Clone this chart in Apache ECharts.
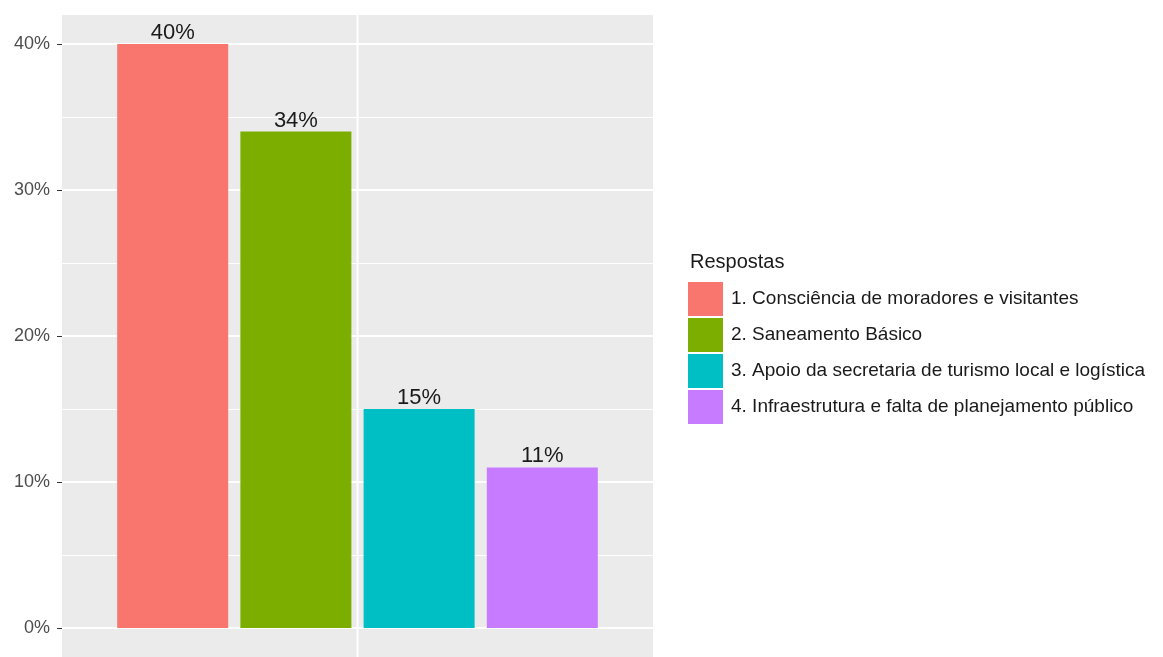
<!DOCTYPE html>
<html>
<head>
<meta charset="utf-8">
<script src="https://cdn.jsdelivr.net/npm/echarts@6/dist/echarts.min.js"></script>
<style>
  html, body { margin: 0; padding: 0; background: #ffffff; }
  #chart { width: 1163px; height: 657px; }
</style>
</head>
<body>
<div id="chart"></div>
<script>
// Answer categories and their shares (percent)
const respostas = [
  '1. Consciência de moradores e visitantes',
  '2. Saneamento Básico',
  '3. Apoio da secretaria de turismo local e logística',
  '4. Infraestrutura e falta de planejamento público'
];
const percentuais = [40, 34, 15, 11];
const cores = ['#F8766D', '#7CAE00', '#00BFC4', '#C77CFF'];
const yTicks = [0, 10, 20, 30, 40];
const legendTitle = 'Respostas';

const FONT = '"Liberation Sans", Arial, sans-serif';

// Panel box (grey background) that extends slightly beyond the 0–40 range
const panel = { left: 62, right: 653, top: 15, bottom: 657 };

const chart = echarts.init(document.getElementById('chart'), null, { renderer: 'canvas' });

const series = respostas.map((nome, i) => ({
  name: nome,
  type: 'bar',
  data: [percentuais[i]],
  barWidth: 111,
  barGap: '11%',
  itemStyle: { color: cores[i] },
  label: {
    show: true,
    position: 'top',
    distance: 0,
    formatter: (p) => p.value + '%',
    color: '#1a1a1a',
    fontFamily: FONT,
    fontSize: 22
  },
  z: 3
}));

chart.setOption({
  animation: false,
  backgroundColor: '#ffffff',
  title: {
    text: legendTitle,
    left: 690,
    top: 252,
    padding: 0,
    textStyle: { fontFamily: FONT, fontSize: 20, fontWeight: 'normal', color: '#1a1a1a' }
  },
  legend: {
    orient: 'vertical',
    left: 688,
    top: 282,
    padding: 0,
    itemWidth: 35,
    itemHeight: 34,
    itemGap: 2,
    icon: 'rect',
    data: respostas,
    textStyle: { fontFamily: FONT, fontSize: 19, color: '#1a1a1a', padding: [0, 0, 0, 3] },
    selectedMode: false
  },
  graphic: [
    {
      type: 'rect',
      z: -10,
      silent: true,
      shape: { x: panel.left, y: panel.top, width: panel.right - panel.left, height: panel.bottom - panel.top },
      style: { fill: '#EBEBEB' }
    },
    {
      // vertical major gridline at the single discrete x position
      type: 'line',
      z: -5,
      silent: true,
      shape: { x1: (panel.left + panel.right) / 2, y1: panel.top, x2: (panel.left + panel.right) / 2, y2: panel.bottom },
      style: { stroke: '#ffffff', lineWidth: 2 }
    }
  ],
  grid: { left: 62, right: 510, top: 44, bottom: 29, containLabel: false },
  xAxis: {
    type: 'category',
    data: [''],
    axisLine: { show: false },
    axisTick: { show: false },
    axisLabel: { show: false },
    splitLine: { show: false }
  },
  yAxis: {
    type: 'value',
    min: yTicks[0],
    max: yTicks[yTicks.length - 1],
    interval: 10,
    axisLine: { show: false },
    axisTick: { show: true, length: 5, lineStyle: { color: '#333333', width: 1 } },
    axisLabel: {
      margin: 12,
      formatter: (v) => v + '%',
      color: '#4D4D4D',
      fontFamily: FONT,
      fontSize: 18
    },
    splitLine: { show: true, lineStyle: { color: '#ffffff', width: 2 } },
    minorTick: { show: false, splitNumber: 2 },
    minorSplitLine: { show: true, lineStyle: { color: '#ffffff', width: 1 } }
  },
  series: series
});
</script>
</body>
</html>
